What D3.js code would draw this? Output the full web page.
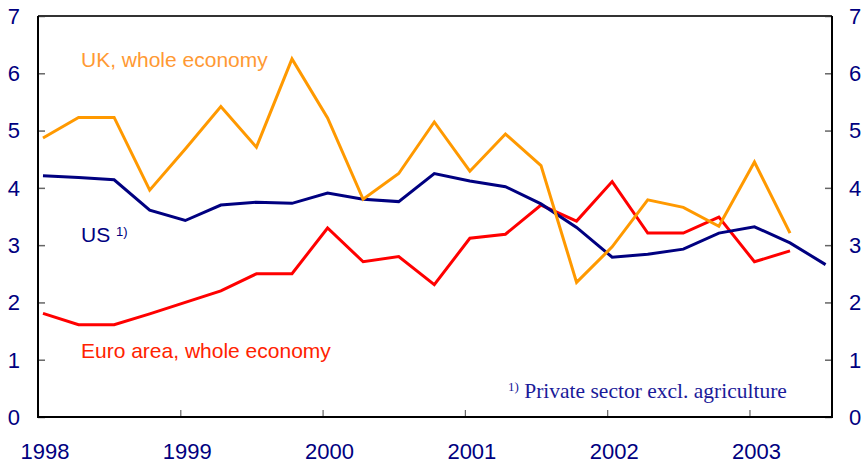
<!DOCTYPE html>
<html>
<head>
<meta charset="utf-8">
<script src="https://cdn.jsdelivr.net/npm/d3@7/dist/d3.min.js"></script>
<style>
  body { margin: 0; background: #fff; }
  svg { display: block; }
</style>
</head>
<body>
<svg width="866" height="465"></svg>
<script>
// quarterly observations, 1998Q1 .. 2003Q3
const quarters = ['1998Q1','1998Q2','1998Q3','1998Q4','1999Q1','1999Q2','1999Q3','1999Q4',
  '2000Q1','2000Q2','2000Q3','2000Q4','2001Q1','2001Q2','2001Q3','2001Q4',
  '2002Q1','2002Q2','2002Q3','2002Q4','2003Q1','2003Q2','2003Q3'];

const ukValues = [4.87, 5.23, 5.23, 3.96, 4.68, 5.42, 4.71, 6.25, 5.22, 3.80, 4.25, 5.15,
  4.29, 4.94, 4.39, 2.35, 2.97, 3.79, 3.66, 3.33, 4.45, 3.21];
const euroValues = [1.81, 1.61, 1.61, 1.80, 2.00, 2.20, 2.50, 2.50, 3.30, 2.71, 2.80, 2.31,
  3.12, 3.19, 3.70, 3.42, 4.11, 3.21, 3.21, 3.49, 2.71, 2.90];
const usValues = [4.21, 4.18, 4.14, 3.61, 3.43, 3.70, 3.75, 3.73, 3.91, 3.80, 3.76, 4.25,
  4.12, 4.02, 3.72, 3.31, 2.79, 2.84, 2.93, 3.21, 3.32, 3.04, 2.66];

const yearTicks = [1998, 1999, 2000, 2001, 2002, 2003];
const valueTicks = [0, 1, 2, 3, 4, 5, 6, 7];

const svg = d3.select('svg');
const margin = { top: 16, right: 34, bottom: 48, left: 38 };
const width = +svg.attr('width');
const height = +svg.attr('height');
const innerWidth = width - margin.left - margin.right;
const innerHeight = height - margin.top - margin.bottom;

const navy = '#000080';
const font = 'Arial, "Liberation Sans", sans-serif';

const x = d3.scaleLinear().domain([1998, 2003.58]).range([0, innerWidth]);
const y = d3.scaleLinear().domain([0, 7]).range([innerHeight, 0]);

// points sit a little after the start of each quarter
const qPos = q => +q.slice(0, 4) + (+q.slice(5) - 1) / 4 + 0.035;

const g = svg.append('g').attr('transform', `translate(${margin.left},${margin.top})`);

// inner ticks
g.append('g')
  .attr('transform', `translate(0,${innerHeight})`)
  .call(d3.axisTop(x).tickValues(yearTicks).tickSize(7).tickFormat(''))
  .call(a => a.select('.domain').remove())
  .call(a => a.selectAll('line').attr('stroke', '#666').attr('stroke-width', 1.2));

g.append('g')
  .call(d3.axisRight(y).tickValues(valueTicks).tickSize(7).tickFormat(''))
  .call(a => a.select('.domain').remove())
  .call(a => a.selectAll('line').attr('stroke', '#666').attr('stroke-width', 1.5));

g.append('g')
  .attr('transform', `translate(${innerWidth},0)`)
  .call(d3.axisLeft(y).tickValues(valueTicks).tickSize(7).tickFormat(''))
  .call(a => a.select('.domain').remove())
  .call(a => a.selectAll('line').attr('stroke', '#666').attr('stroke-width', 1.5));

// frame
g.append('line').attr('x1', 0).attr('x2', innerWidth).attr('y1', 0).attr('y2', 0)
  .attr('stroke', '#333').attr('stroke-width', 2);
g.append('path')
  .attr('d', `M0,0V${innerHeight}H${innerWidth}V0`)
  .attr('fill', 'none').attr('stroke', '#000').attr('stroke-width', 2);

// tick labels
g.selectAll('.ylab-l').data(valueTicks).join('text')
  .attr('x', -18).attr('y', d => y(d)).attr('dy', '0.36em')
  .attr('text-anchor', 'end')
  .style('font-family', font).style('font-size', '22px').attr('fill', navy)
  .text(d => d);

g.selectAll('.ylab-r').data(valueTicks).join('text')
  .attr('x', innerWidth + 17).attr('y', d => y(d)).attr('dy', '0.36em')
  .attr('text-anchor', 'start')
  .style('font-family', font).style('font-size', '22px').attr('fill', navy)
  .text(d => d);

g.selectAll('.xlab').data(yearTicks).join('text')
  .attr('x', d => x(d) + 7).attr('y', innerHeight + 42)
  .attr('text-anchor', 'middle')
  .style('font-family', font).style('font-size', '22px').attr('fill', navy)
  .text(d => d);

// series
const line = d3.line().x(d => x(qPos(d.q))).y(d => y(d.v));
const series = [
  { values: euroValues, color: '#FF0000' },
  { values: usValues, color: navy },
  { values: ukValues, color: '#FF9900' }
];

g.selectAll('.series').data(series).join('path')
  .attr('class', 'series')
  .attr('d', s => line(s.values.map((v, i) => ({ q: quarters[i], v }))))
  .attr('fill', 'none')
  .attr('stroke', s => s.color)
  .attr('stroke-width', 3)
  .attr('stroke-linejoin', 'miter');

// labels
g.append('text').attr('x', 43).attr('y', 51)
  .style('font-family', font).style('font-size', '21px').attr('fill', '#FF9933')
  .text('UK, whole economy');

const us = g.append('text').attr('x', 43).attr('y', 226)
  .style('font-family', font).style('font-size', '21px').attr('fill', navy);
us.append('tspan').text('US ');
us.append('tspan').attr('dy', -6).style('font-size', '13px').text('1)');

g.append('text').attr('x', 43).attr('y', 342)
  .style('font-family', font).style('font-size', '21px').attr('fill', '#FF2200')
  .text('Euro area, whole economy');

const note = g.append('text').attr('x', 470).attr('y', 382)
  .style('font-family', '"Liberation Serif", "Times New Roman", serif')
  .style('font-size', '21.5px').attr('fill', '#1a1a99');
note.append('tspan').attr('dy', -7).style('font-size', '13px').text('1)');
note.append('tspan').attr('dy', 7).text(' Private sector excl. agriculture');
</script>
</body>
</html>
